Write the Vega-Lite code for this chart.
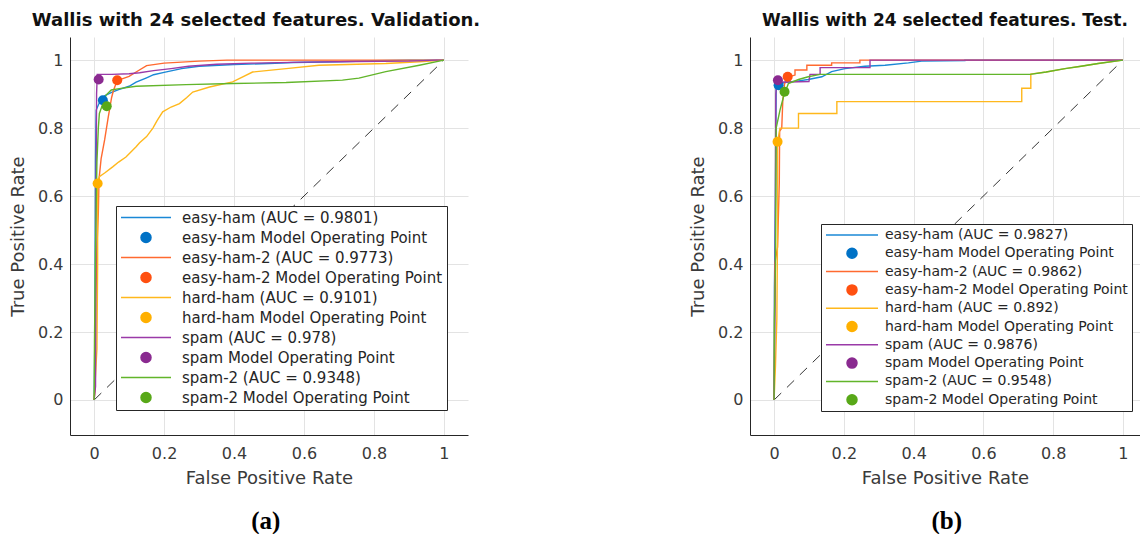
{
  "$schema": "https://vega.github.io/schema/vega-lite/v6.json",
  "padding": {"left": 9, "top": 12, "right": 0, "bottom": 0},
  "background": "white",
  "spacing": 208,
  "config": {
    "view": {"stroke": null},
    "font": "DejaVu Sans",
    "axis": {
      "grid": true, "gridColor": "#e3e3e3", "gridWidth": 1,
      "domainColor": "#262626", "domainWidth": 1,
      "ticks": false, "labelFont": "DejaVu Sans", "labelFontSize": 16, "labelColor": "#3a3a3a",
      "titleFont": "DejaVu Sans", "titleFontSize": 18, "titleFontWeight": "normal", "titleColor": "#3a3a3a"
    },
    "axisX": {"labelPadding": 10, "titlePadding": 8},
    "axisY": {"labelPadding": 7, "titlePadding": 10}
  },
  "resolve": {"scale": {"color": "independent", "shape": "independent", "size": "independent"}, "legend": {"color": "independent", "shape": "independent", "size": "independent"}},
  "hconcat": [
    {
      "title": {"text": "(a)", "orient": "bottom", "anchor": "middle", "dx": 21, "font": "Liberation Serif", "fontWeight": "bold", "fontSize": 25, "color": "#000", "offset": 22},
      "bounds": "flush",
      "vconcat": [
        {
          "width": 398, "height": 398,
          "title": {"text": "Wallis with 24 selected features. Validation.", "font": "DejaVu Sans", "fontWeight": "bold", "fontSize": 18, "color": "#111111", "offset": 7, "dx": -13},
          "layer": [
            {
              "data": {"values": [{"x": 0, "y": 0}, {"x": 1, "y": 1}]},
              "mark": {"type": "line", "color": "#000000", "strokeWidth": 0.8, "strokeDash": [10, 8]},
              "encoding": {
                "x": {"field": "x", "type": "quantitative", "scale": {"domain": [-0.069, 1.069], "nice": false, "zero": false}, "title": "False Positive Rate", "axis": {"values": [0, 0.2, 0.4, 0.6, 0.8, 1], "format": "~g"}},
                "y": {"field": "y", "type": "quantitative", "scale": {"domain": [-0.103, 1.068], "nice": false, "zero": false}, "title": "True Positive Rate", "axis": {"values": [0, 0.2, 0.4, 0.6, 0.8, 1], "format": "~g"}}
              }
            },
            {
              "data": {"values": [
                {"s": "easy-ham (AUC = 0.9801)", "i": 0, "x": 0, "y": 0},
                {"s": "easy-ham (AUC = 0.9801)", "i": 1, "x": 0.002, "y": 0.18},
                {"s": "easy-ham (AUC = 0.9801)", "i": 2, "x": 0.003, "y": 0.45},
                {"s": "easy-ham (AUC = 0.9801)", "i": 3, "x": 0.004, "y": 0.7},
                {"s": "easy-ham (AUC = 0.9801)", "i": 4, "x": 0.005, "y": 0.8},
                {"s": "easy-ham (AUC = 0.9801)", "i": 5, "x": 0.006, "y": 0.853},
                {"s": "easy-ham (AUC = 0.9801)", "i": 6, "x": 0.012, "y": 0.868},
                {"s": "easy-ham (AUC = 0.9801)", "i": 7, "x": 0.02, "y": 0.885},
                {"s": "easy-ham (AUC = 0.9801)", "i": 8, "x": 0.03, "y": 0.895},
                {"s": "easy-ham (AUC = 0.9801)", "i": 9, "x": 0.05, "y": 0.905},
                {"s": "easy-ham (AUC = 0.9801)", "i": 10, "x": 0.07, "y": 0.913},
                {"s": "easy-ham (AUC = 0.9801)", "i": 11, "x": 0.1, "y": 0.923},
                {"s": "easy-ham (AUC = 0.9801)", "i": 12, "x": 0.12, "y": 0.935},
                {"s": "easy-ham (AUC = 0.9801)", "i": 13, "x": 0.15, "y": 0.948},
                {"s": "easy-ham (AUC = 0.9801)", "i": 14, "x": 0.17, "y": 0.957},
                {"s": "easy-ham (AUC = 0.9801)", "i": 15, "x": 0.2, "y": 0.964},
                {"s": "easy-ham (AUC = 0.9801)", "i": 16, "x": 0.25, "y": 0.975},
                {"s": "easy-ham (AUC = 0.9801)", "i": 17, "x": 0.3, "y": 0.982},
                {"s": "easy-ham (AUC = 0.9801)", "i": 18, "x": 0.4, "y": 0.987},
                {"s": "easy-ham (AUC = 0.9801)", "i": 19, "x": 0.5, "y": 0.99},
                {"s": "easy-ham (AUC = 0.9801)", "i": 20, "x": 0.57, "y": 0.993},
                {"s": "easy-ham (AUC = 0.9801)", "i": 21, "x": 0.7, "y": 0.995},
                {"s": "easy-ham (AUC = 0.9801)", "i": 22, "x": 0.8, "y": 0.998},
                {"s": "easy-ham (AUC = 0.9801)", "i": 23, "x": 0.9, "y": 1},
                {"s": "easy-ham (AUC = 0.9801)", "i": 24, "x": 1, "y": 1},
                {"s": "easy-ham-2 (AUC = 0.9773)", "i": 0, "x": 0, "y": 0},
                {"s": "easy-ham-2 (AUC = 0.9773)", "i": 1, "x": 0.003, "y": 0.04},
                {"s": "easy-ham-2 (AUC = 0.9773)", "i": 2, "x": 0.005, "y": 0.3},
                {"s": "easy-ham-2 (AUC = 0.9773)", "i": 3, "x": 0.008, "y": 0.45},
                {"s": "easy-ham-2 (AUC = 0.9773)", "i": 4, "x": 0.012, "y": 0.55},
                {"s": "easy-ham-2 (AUC = 0.9773)", "i": 5, "x": 0.014, "y": 0.65},
                {"s": "easy-ham-2 (AUC = 0.9773)", "i": 6, "x": 0.02, "y": 0.71},
                {"s": "easy-ham-2 (AUC = 0.9773)", "i": 7, "x": 0.03, "y": 0.765},
                {"s": "easy-ham-2 (AUC = 0.9773)", "i": 8, "x": 0.04, "y": 0.83},
                {"s": "easy-ham-2 (AUC = 0.9773)", "i": 9, "x": 0.045, "y": 0.86},
                {"s": "easy-ham-2 (AUC = 0.9773)", "i": 10, "x": 0.05, "y": 0.89},
                {"s": "easy-ham-2 (AUC = 0.9773)", "i": 11, "x": 0.055, "y": 0.91},
                {"s": "easy-ham-2 (AUC = 0.9773)", "i": 12, "x": 0.063, "y": 0.932},
                {"s": "easy-ham-2 (AUC = 0.9773)", "i": 13, "x": 0.08, "y": 0.945},
                {"s": "easy-ham-2 (AUC = 0.9773)", "i": 14, "x": 0.1, "y": 0.952},
                {"s": "easy-ham-2 (AUC = 0.9773)", "i": 15, "x": 0.12, "y": 0.965},
                {"s": "easy-ham-2 (AUC = 0.9773)", "i": 16, "x": 0.15, "y": 0.984},
                {"s": "easy-ham-2 (AUC = 0.9773)", "i": 17, "x": 0.2, "y": 0.991},
                {"s": "easy-ham-2 (AUC = 0.9773)", "i": 18, "x": 0.3, "y": 0.997},
                {"s": "easy-ham-2 (AUC = 0.9773)", "i": 19, "x": 0.38, "y": 1},
                {"s": "easy-ham-2 (AUC = 0.9773)", "i": 20, "x": 1, "y": 1},
                {"s": "hard-ham (AUC = 0.9101)", "i": 0, "x": 0, "y": 0},
                {"s": "hard-ham (AUC = 0.9101)", "i": 1, "x": 0.008, "y": 0.15},
                {"s": "hard-ham (AUC = 0.9101)", "i": 2, "x": 0.01, "y": 0.4},
                {"s": "hard-ham (AUC = 0.9101)", "i": 3, "x": 0.01, "y": 0.635},
                {"s": "hard-ham (AUC = 0.9101)", "i": 4, "x": 0.015, "y": 0.657},
                {"s": "hard-ham (AUC = 0.9101)", "i": 5, "x": 0.03, "y": 0.668},
                {"s": "hard-ham (AUC = 0.9101)", "i": 6, "x": 0.053, "y": 0.686},
                {"s": "hard-ham (AUC = 0.9101)", "i": 7, "x": 0.07, "y": 0.7},
                {"s": "hard-ham (AUC = 0.9101)", "i": 8, "x": 0.091, "y": 0.715},
                {"s": "hard-ham (AUC = 0.9101)", "i": 9, "x": 0.12, "y": 0.745},
                {"s": "hard-ham (AUC = 0.9101)", "i": 10, "x": 0.13, "y": 0.757},
                {"s": "hard-ham (AUC = 0.9101)", "i": 11, "x": 0.15, "y": 0.775},
                {"s": "hard-ham (AUC = 0.9101)", "i": 12, "x": 0.168, "y": 0.8},
                {"s": "hard-ham (AUC = 0.9101)", "i": 13, "x": 0.18, "y": 0.822},
                {"s": "hard-ham (AUC = 0.9101)", "i": 14, "x": 0.196, "y": 0.848},
                {"s": "hard-ham (AUC = 0.9101)", "i": 15, "x": 0.22, "y": 0.862},
                {"s": "hard-ham (AUC = 0.9101)", "i": 16, "x": 0.244, "y": 0.872},
                {"s": "hard-ham (AUC = 0.9101)", "i": 17, "x": 0.265, "y": 0.89},
                {"s": "hard-ham (AUC = 0.9101)", "i": 18, "x": 0.282, "y": 0.906},
                {"s": "hard-ham (AUC = 0.9101)", "i": 19, "x": 0.33, "y": 0.921},
                {"s": "hard-ham (AUC = 0.9101)", "i": 20, "x": 0.396, "y": 0.936},
                {"s": "hard-ham (AUC = 0.9101)", "i": 21, "x": 0.425, "y": 0.951},
                {"s": "hard-ham (AUC = 0.9101)", "i": 22, "x": 0.453, "y": 0.965},
                {"s": "hard-ham (AUC = 0.9101)", "i": 23, "x": 0.549, "y": 0.975},
                {"s": "hard-ham (AUC = 0.9101)", "i": 24, "x": 0.643, "y": 0.985},
                {"s": "hard-ham (AUC = 0.9101)", "i": 25, "x": 0.834, "y": 0.99},
                {"s": "hard-ham (AUC = 0.9101)", "i": 26, "x": 0.93, "y": 0.995},
                {"s": "hard-ham (AUC = 0.9101)", "i": 27, "x": 1, "y": 1},
                {"s": "spam (AUC = 0.978)", "i": 0, "x": 0, "y": 0},
                {"s": "spam (AUC = 0.978)", "i": 1, "x": 0.004, "y": 0.04},
                {"s": "spam (AUC = 0.978)", "i": 2, "x": 0.005, "y": 0.5},
                {"s": "spam (AUC = 0.978)", "i": 3, "x": 0.007, "y": 0.9},
                {"s": "spam (AUC = 0.978)", "i": 4, "x": 0.009, "y": 0.958},
                {"s": "spam (AUC = 0.978)", "i": 5, "x": 0.05, "y": 0.958},
                {"s": "spam (AUC = 0.978)", "i": 6, "x": 0.1, "y": 0.96},
                {"s": "spam (AUC = 0.978)", "i": 7, "x": 0.13, "y": 0.963},
                {"s": "spam (AUC = 0.978)", "i": 8, "x": 0.17, "y": 0.969},
                {"s": "spam (AUC = 0.978)", "i": 9, "x": 0.22, "y": 0.975},
                {"s": "spam (AUC = 0.978)", "i": 10, "x": 0.27, "y": 0.982},
                {"s": "spam (AUC = 0.978)", "i": 11, "x": 0.35, "y": 0.988},
                {"s": "spam (AUC = 0.978)", "i": 12, "x": 0.45, "y": 0.991},
                {"s": "spam (AUC = 0.978)", "i": 13, "x": 0.6, "y": 0.994},
                {"s": "spam (AUC = 0.978)", "i": 14, "x": 0.75, "y": 0.996},
                {"s": "spam (AUC = 0.978)", "i": 15, "x": 0.9, "y": 0.997},
                {"s": "spam (AUC = 0.978)", "i": 16, "x": 0.98, "y": 1},
                {"s": "spam (AUC = 0.978)", "i": 17, "x": 1, "y": 1},
                {"s": "spam-2 (AUC = 0.9348)", "i": 0, "x": 0, "y": 0},
                {"s": "spam-2 (AUC = 0.9348)", "i": 1, "x": 0.001, "y": 0.17},
                {"s": "spam-2 (AUC = 0.9348)", "i": 2, "x": 0.004, "y": 0.45},
                {"s": "spam-2 (AUC = 0.9348)", "i": 3, "x": 0.008, "y": 0.7},
                {"s": "spam-2 (AUC = 0.9348)", "i": 4, "x": 0.012, "y": 0.8},
                {"s": "spam-2 (AUC = 0.9348)", "i": 5, "x": 0.015, "y": 0.843},
                {"s": "spam-2 (AUC = 0.9348)", "i": 6, "x": 0.025, "y": 0.872},
                {"s": "spam-2 (AUC = 0.9348)", "i": 7, "x": 0.034, "y": 0.897},
                {"s": "spam-2 (AUC = 0.9348)", "i": 8, "x": 0.049, "y": 0.912},
                {"s": "spam-2 (AUC = 0.9348)", "i": 9, "x": 0.072, "y": 0.916},
                {"s": "spam-2 (AUC = 0.9348)", "i": 10, "x": 0.12, "y": 0.923},
                {"s": "spam-2 (AUC = 0.9348)", "i": 11, "x": 0.263, "y": 0.928},
                {"s": "spam-2 (AUC = 0.9348)", "i": 12, "x": 0.396, "y": 0.931},
                {"s": "spam-2 (AUC = 0.9348)", "i": 13, "x": 0.549, "y": 0.934},
                {"s": "spam-2 (AUC = 0.9348)", "i": 14, "x": 0.71, "y": 0.941},
                {"s": "spam-2 (AUC = 0.9348)", "i": 15, "x": 0.757, "y": 0.947},
                {"s": "spam-2 (AUC = 0.9348)", "i": 16, "x": 0.834, "y": 0.966},
                {"s": "spam-2 (AUC = 0.9348)", "i": 17, "x": 0.93, "y": 0.985},
                {"s": "spam-2 (AUC = 0.9348)", "i": 18, "x": 1, "y": 1}
              ]},
              "mark": {"type": "line", "strokeWidth": 1.4},
              "encoding": {
                "x": {"field": "x", "type": "quantitative"},
                "y": {"field": "y", "type": "quantitative"},
                "order": {"field": "i", "type": "quantitative"},
                "color": {
                  "field": "s", "type": "nominal",
                  "scale": {
                    "domain": ["easy-ham (AUC = 0.9801)", "easy-ham Model Operating Point", "easy-ham-2 (AUC = 0.9773)", "easy-ham-2 Model Operating Point", "hard-ham (AUC = 0.9101)", "hard-ham Model Operating Point", "spam (AUC = 0.978)", "spam Model Operating Point", "spam-2 (AUC = 0.9348)", "spam-2 Model Operating Point"],
                    "range": ["#1a88d6", "#0072c6", "#ff6a30", "#ff5010", "#ffb81c", "#ffb000", "#9a3aa8", "#8a2a90", "#62b52a", "#58a818"]
                  },
                  "legend": {"orient": "none", "legendX": 46, "legendY": 169, "title": null, "labelFontSize": 15, "labelFont": "DejaVu Sans", "labelColor": "#262626", "strokeColor": "#262626", "fillColor": "#ffffff", "padding": 4, "rowPadding": 4, "clipHeight": 15, "symbolStrokeWidth": 1.5, "labelOffset": 10, "labelLimit": 400}
                }
              }
            },
            {
              "data": {"values": [
                {"s": "easy-ham Model Operating Point", "x": 0.025, "y": 0.882},
                {"s": "easy-ham-2 Model Operating Point", "x": 0.066, "y": 0.941},
                {"s": "hard-ham Model Operating Point", "x": 0.01, "y": 0.637},
                {"s": "spam Model Operating Point", "x": 0.013, "y": 0.943},
                {"s": "spam-2 Model Operating Point", "x": 0.036, "y": 0.864}
              ]},
              "mark": {"type": "point", "filled": true, "opacity": 1},
              "encoding": {
                "x": {"field": "x", "type": "quantitative"},
                "y": {"field": "y", "type": "quantitative"},
                "color": {
                  "field": "s", "type": "nominal",
                  "legend": {"orient": "none", "legendX": 46, "legendY": 169, "title": null, "labelFontSize": 15, "labelFont": "DejaVu Sans", "labelColor": "#262626", "strokeColor": "#262626", "fillColor": "#ffffff", "padding": 4, "rowPadding": 4, "clipHeight": 15, "symbolStrokeWidth": 1.5, "labelOffset": 10, "labelLimit": 400}
                },
                "shape": {
                  "field": "s", "type": "nominal",
                  "scale": {
                    "domain": ["easy-ham (AUC = 0.9801)", "easy-ham Model Operating Point", "easy-ham-2 (AUC = 0.9773)", "easy-ham-2 Model Operating Point", "hard-ham (AUC = 0.9101)", "hard-ham Model Operating Point", "spam (AUC = 0.978)", "spam Model Operating Point", "spam-2 (AUC = 0.9348)", "spam-2 Model Operating Point"],
                    "range": ["stroke", "circle", "stroke", "circle", "stroke", "circle", "stroke", "circle", "stroke", "circle"]
                  },
                  "legend": {"title": null}
                },
                "size": {
                  "field": "s", "type": "nominal",
                  "scale": {
                    "type": "ordinal",
                    "domain": ["easy-ham (AUC = 0.9801)", "easy-ham Model Operating Point", "easy-ham-2 (AUC = 0.9773)", "easy-ham-2 Model Operating Point", "hard-ham (AUC = 0.9101)", "hard-ham Model Operating Point", "spam (AUC = 0.978)", "spam Model Operating Point", "spam-2 (AUC = 0.9348)", "spam-2 Model Operating Point"],
                    "range": [2500, 100, 2500, 100, 2500, 100, 2500, 100, 2500, 100]
                  },
                  "legend": {"title": null}
                }
              }
            }
          ]
        }
      ]
    },
    {
      "title": {"text": "(b)", "orient": "bottom", "anchor": "middle", "dx": 32, "font": "Liberation Serif", "fontWeight": "bold", "fontSize": 25, "color": "#000", "offset": 22},
      "bounds": "flush",
      "vconcat": [
        {
          "width": 390, "height": 398,
          "title": {"text": "Wallis with 24 selected features. Test.", "font": "DejaVu Sans", "fontWeight": "bold", "fontSize": 17, "color": "#111111", "offset": 7},
          "layer": [
            {
              "data": {"values": [{"x": 0, "y": 0}, {"x": 1, "y": 1}]},
              "mark": {"type": "line", "color": "#000000", "strokeWidth": 0.8, "strokeDash": [10, 8]},
              "encoding": {
                "x": {"field": "x", "type": "quantitative", "scale": {"domain": [-0.069, 1.049], "nice": false, "zero": false}, "title": "False Positive Rate", "axis": {"values": [0, 0.2, 0.4, 0.6, 0.8, 1], "format": "~g"}},
                "y": {"field": "y", "type": "quantitative", "scale": {"domain": [-0.103, 1.068], "nice": false, "zero": false}, "title": "True Positive Rate", "axis": {"values": [0, 0.2, 0.4, 0.6, 0.8, 1], "format": "~g"}}
              }
            },
            {
              "data": {"values": [
                {"s": "easy-ham (AUC = 0.9827)", "i": 0, "x": 0, "y": 0},
                {"s": "easy-ham (AUC = 0.9827)", "i": 1, "x": 0.001, "y": 0.33},
                {"s": "easy-ham (AUC = 0.9827)", "i": 2, "x": 0.002, "y": 0.41},
                {"s": "easy-ham (AUC = 0.9827)", "i": 3, "x": 0.004, "y": 0.6},
                {"s": "easy-ham (AUC = 0.9827)", "i": 4, "x": 0.006, "y": 0.915},
                {"s": "easy-ham (AUC = 0.9827)", "i": 5, "x": 0.01, "y": 0.928},
                {"s": "easy-ham (AUC = 0.9827)", "i": 6, "x": 0.03, "y": 0.934},
                {"s": "easy-ham (AUC = 0.9827)", "i": 7, "x": 0.07, "y": 0.939},
                {"s": "easy-ham (AUC = 0.9827)", "i": 8, "x": 0.098, "y": 0.943},
                {"s": "easy-ham (AUC = 0.9827)", "i": 9, "x": 0.137, "y": 0.951},
                {"s": "easy-ham (AUC = 0.9827)", "i": 10, "x": 0.165, "y": 0.966},
                {"s": "easy-ham (AUC = 0.9827)", "i": 11, "x": 0.203, "y": 0.975},
                {"s": "easy-ham (AUC = 0.9827)", "i": 12, "x": 0.26, "y": 0.982},
                {"s": "easy-ham (AUC = 0.9827)", "i": 13, "x": 0.318, "y": 0.985},
                {"s": "easy-ham (AUC = 0.9827)", "i": 14, "x": 0.385, "y": 0.992},
                {"s": "easy-ham (AUC = 0.9827)", "i": 15, "x": 0.423, "y": 0.997},
                {"s": "easy-ham (AUC = 0.9827)", "i": 16, "x": 0.547, "y": 0.999},
                {"s": "easy-ham (AUC = 0.9827)", "i": 17, "x": 0.547, "y": 1},
                {"s": "easy-ham (AUC = 0.9827)", "i": 18, "x": 1, "y": 1},
                {"s": "easy-ham-2 (AUC = 0.9862)", "i": 0, "x": 0, "y": 0},
                {"s": "easy-ham-2 (AUC = 0.9862)", "i": 1, "x": 0.001, "y": 0.16},
                {"s": "easy-ham-2 (AUC = 0.9862)", "i": 2, "x": 0.002, "y": 0.4},
                {"s": "easy-ham-2 (AUC = 0.9862)", "i": 3, "x": 0.01, "y": 0.45},
                {"s": "easy-ham-2 (AUC = 0.9862)", "i": 4, "x": 0.015, "y": 0.64},
                {"s": "easy-ham-2 (AUC = 0.9862)", "i": 5, "x": 0.016, "y": 0.79},
                {"s": "easy-ham-2 (AUC = 0.9862)", "i": 6, "x": 0.022, "y": 0.8},
                {"s": "easy-ham-2 (AUC = 0.9862)", "i": 7, "x": 0.025, "y": 0.88},
                {"s": "easy-ham-2 (AUC = 0.9862)", "i": 8, "x": 0.03, "y": 0.93},
                {"s": "easy-ham-2 (AUC = 0.9862)", "i": 9, "x": 0.04, "y": 0.95},
                {"s": "easy-ham-2 (AUC = 0.9862)", "i": 10, "x": 0.06, "y": 0.956},
                {"s": "easy-ham-2 (AUC = 0.9862)", "i": 11, "x": 0.06, "y": 0.971},
                {"s": "easy-ham-2 (AUC = 0.9862)", "i": 12, "x": 0.094, "y": 0.971},
                {"s": "easy-ham-2 (AUC = 0.9862)", "i": 13, "x": 0.094, "y": 0.985},
                {"s": "easy-ham-2 (AUC = 0.9862)", "i": 14, "x": 0.165, "y": 0.985},
                {"s": "easy-ham-2 (AUC = 0.9862)", "i": 15, "x": 0.165, "y": 0.992},
                {"s": "easy-ham-2 (AUC = 0.9862)", "i": 16, "x": 0.246, "y": 0.992},
                {"s": "easy-ham-2 (AUC = 0.9862)", "i": 17, "x": 0.246, "y": 1},
                {"s": "easy-ham-2 (AUC = 0.9862)", "i": 18, "x": 1, "y": 1},
                {"s": "hard-ham (AUC = 0.892)", "i": 0, "x": 0, "y": 0},
                {"s": "hard-ham (AUC = 0.892)", "i": 1, "x": 0.004, "y": 0.1},
                {"s": "hard-ham (AUC = 0.892)", "i": 2, "x": 0.008, "y": 0.24},
                {"s": "hard-ham (AUC = 0.892)", "i": 3, "x": 0.01, "y": 0.5},
                {"s": "hard-ham (AUC = 0.892)", "i": 4, "x": 0.01, "y": 0.76},
                {"s": "hard-ham (AUC = 0.892)", "i": 5, "x": 0.017, "y": 0.8},
                {"s": "hard-ham (AUC = 0.892)", "i": 6, "x": 0.07, "y": 0.8},
                {"s": "hard-ham (AUC = 0.892)", "i": 7, "x": 0.07, "y": 0.843},
                {"s": "hard-ham (AUC = 0.892)", "i": 8, "x": 0.18, "y": 0.843},
                {"s": "hard-ham (AUC = 0.892)", "i": 9, "x": 0.18, "y": 0.878},
                {"s": "hard-ham (AUC = 0.892)", "i": 10, "x": 0.71, "y": 0.878},
                {"s": "hard-ham (AUC = 0.892)", "i": 11, "x": 0.71, "y": 0.917},
                {"s": "hard-ham (AUC = 0.892)", "i": 12, "x": 0.736, "y": 0.917},
                {"s": "hard-ham (AUC = 0.892)", "i": 13, "x": 0.736, "y": 0.959},
                {"s": "hard-ham (AUC = 0.892)", "i": 14, "x": 0.78, "y": 0.965},
                {"s": "hard-ham (AUC = 0.892)", "i": 15, "x": 0.834, "y": 0.975},
                {"s": "hard-ham (AUC = 0.892)", "i": 16, "x": 0.88, "y": 0.982},
                {"s": "hard-ham (AUC = 0.892)", "i": 17, "x": 0.929, "y": 0.99},
                {"s": "hard-ham (AUC = 0.892)", "i": 18, "x": 1, "y": 1},
                {"s": "spam (AUC = 0.9876)", "i": 0, "x": 0, "y": 0},
                {"s": "spam (AUC = 0.9876)", "i": 1, "x": 0.003, "y": 0.3},
                {"s": "spam (AUC = 0.9876)", "i": 2, "x": 0.005, "y": 0.9},
                {"s": "spam (AUC = 0.9876)", "i": 3, "x": 0.008, "y": 0.935},
                {"s": "spam (AUC = 0.9876)", "i": 4, "x": 0.1, "y": 0.937},
                {"s": "spam (AUC = 0.9876)", "i": 5, "x": 0.103, "y": 0.958},
                {"s": "spam (AUC = 0.9876)", "i": 6, "x": 0.132, "y": 0.958},
                {"s": "spam (AUC = 0.9876)", "i": 7, "x": 0.132, "y": 0.978},
                {"s": "spam (AUC = 0.9876)", "i": 8, "x": 0.275, "y": 0.978},
                {"s": "spam (AUC = 0.9876)", "i": 9, "x": 0.275, "y": 1},
                {"s": "spam (AUC = 0.9876)", "i": 10, "x": 1, "y": 1},
                {"s": "spam-2 (AUC = 0.9548)", "i": 0, "x": 0, "y": 0},
                {"s": "spam-2 (AUC = 0.9548)", "i": 1, "x": 0.001, "y": 0.23},
                {"s": "spam-2 (AUC = 0.9548)", "i": 2, "x": 0.004, "y": 0.4},
                {"s": "spam-2 (AUC = 0.9548)", "i": 3, "x": 0.006, "y": 0.8},
                {"s": "spam-2 (AUC = 0.9548)", "i": 4, "x": 0.017, "y": 0.853},
                {"s": "spam-2 (AUC = 0.9548)", "i": 5, "x": 0.027, "y": 0.892},
                {"s": "spam-2 (AUC = 0.9548)", "i": 6, "x": 0.041, "y": 0.931},
                {"s": "spam-2 (AUC = 0.9548)", "i": 7, "x": 0.07, "y": 0.943},
                {"s": "spam-2 (AUC = 0.9548)", "i": 8, "x": 0.098, "y": 0.951},
                {"s": "spam-2 (AUC = 0.9548)", "i": 9, "x": 0.132, "y": 0.958},
                {"s": "spam-2 (AUC = 0.9548)", "i": 10, "x": 0.734, "y": 0.958},
                {"s": "spam-2 (AUC = 0.9548)", "i": 11, "x": 0.78, "y": 0.965},
                {"s": "spam-2 (AUC = 0.9548)", "i": 12, "x": 0.834, "y": 0.975},
                {"s": "spam-2 (AUC = 0.9548)", "i": 13, "x": 0.88, "y": 0.982},
                {"s": "spam-2 (AUC = 0.9548)", "i": 14, "x": 0.929, "y": 0.99},
                {"s": "spam-2 (AUC = 0.9548)", "i": 15, "x": 1, "y": 1}
              ]},
              "mark": {"type": "line", "strokeWidth": 1.4},
              "encoding": {
                "x": {"field": "x", "type": "quantitative"},
                "y": {"field": "y", "type": "quantitative"},
                "order": {"field": "i", "type": "quantitative"},
                "color": {
                  "field": "s", "type": "nominal",
                  "scale": {
                    "domain": ["easy-ham (AUC = 0.9827)", "easy-ham Model Operating Point", "easy-ham-2 (AUC = 0.9862)", "easy-ham-2 Model Operating Point", "hard-ham (AUC = 0.892)", "hard-ham Model Operating Point", "spam (AUC = 0.9876)", "spam Model Operating Point", "spam-2 (AUC = 0.9548)", "spam-2 Model Operating Point"],
                    "range": ["#1a88d6", "#0072c6", "#ff6a30", "#ff5010", "#ffb81c", "#ffb000", "#9a3aa8", "#8a2a90", "#62b52a", "#58a818"]
                  },
                  "legend": {"orient": "none", "legendX": 71, "legendY": 187, "title": null, "labelFontSize": 14, "labelFont": "DejaVu Sans", "labelColor": "#262626", "strokeColor": "#262626", "fillColor": "#ffffff", "padding": 4, "rowPadding": 4.3, "clipHeight": 14, "symbolStrokeWidth": 1.5, "labelOffset": 6, "labelLimit": 400}
                }
              }
            },
            {
              "data": {"values": [
                {"s": "easy-ham Model Operating Point", "x": 0.013, "y": 0.926},
                {"s": "easy-ham-2 Model Operating Point", "x": 0.039, "y": 0.951},
                {"s": "hard-ham Model Operating Point", "x": 0.01, "y": 0.76},
                {"s": "spam Model Operating Point", "x": 0.011, "y": 0.941},
                {"s": "spam-2 Model Operating Point", "x": 0.03, "y": 0.907}
              ]},
              "mark": {"type": "point", "filled": true, "opacity": 1},
              "encoding": {
                "x": {"field": "x", "type": "quantitative"},
                "y": {"field": "y", "type": "quantitative"},
                "color": {
                  "field": "s", "type": "nominal",
                  "legend": {"orient": "none", "legendX": 71, "legendY": 187, "title": null, "labelFontSize": 14, "labelFont": "DejaVu Sans", "labelColor": "#262626", "strokeColor": "#262626", "fillColor": "#ffffff", "padding": 4, "rowPadding": 4.3, "clipHeight": 14, "symbolStrokeWidth": 1.5, "labelOffset": 6, "labelLimit": 400}
                },
                "shape": {
                  "field": "s", "type": "nominal",
                  "scale": {
                    "domain": ["easy-ham (AUC = 0.9827)", "easy-ham Model Operating Point", "easy-ham-2 (AUC = 0.9862)", "easy-ham-2 Model Operating Point", "hard-ham (AUC = 0.892)", "hard-ham Model Operating Point", "spam (AUC = 0.9876)", "spam Model Operating Point", "spam-2 (AUC = 0.9548)", "spam-2 Model Operating Point"],
                    "range": ["stroke", "circle", "stroke", "circle", "stroke", "circle", "stroke", "circle", "stroke", "circle"]
                  },
                  "legend": {"title": null}
                },
                "size": {
                  "field": "s", "type": "nominal",
                  "scale": {
                    "type": "ordinal",
                    "domain": ["easy-ham (AUC = 0.9827)", "easy-ham Model Operating Point", "easy-ham-2 (AUC = 0.9862)", "easy-ham-2 Model Operating Point", "hard-ham (AUC = 0.892)", "hard-ham Model Operating Point", "spam (AUC = 0.9876)", "spam Model Operating Point", "spam-2 (AUC = 0.9548)", "spam-2 Model Operating Point"],
                    "range": [2704, 100, 2704, 100, 2704, 100, 2704, 100, 2704, 100]
                  },
                  "legend": {"title": null}
                }
              }
            }
          ]
        }
      ]
    }
  ]
}
